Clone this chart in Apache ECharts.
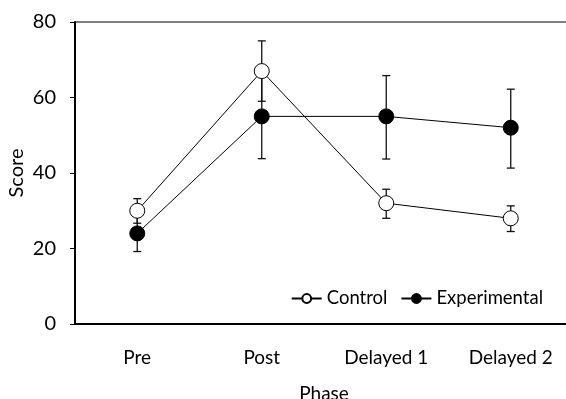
<!DOCTYPE html>
<html>
<head>
<meta charset="utf-8">
<script src="https://cdn.jsdelivr.net/npm/echarts@6/dist/echarts.min.js"></script>
<style>
  html, body { margin: 0; padding: 0; background: #fff; }
  #chart { width: 566px; height: 399px; }
</style>
</head>
<body>
<div id="chart"></div>
<script>
// Phases of the study
const phases = ['Pre', 'Post', 'Delayed 1', 'Delayed 2'];

// Mean scores per group
const controlMeans = [30, 67, 32, 28];
const experimentalMeans = [24, 55, 55, 52];

// Error bar extents (low / high) per group
const controlLow = [26.7, 59, 28, 24.5];
const controlHigh = [33.2, 75, 35.7, 31.3];
const experimentalLow = [19.2, 43.8, 43.7, 41.3];
const experimentalHigh = [28.8, 66.2, 65.8, 62.2];

// Y axis ticks
const scoreTicks = [0, 20, 40, 60, 80];

const FONT = 'Lato';

function errorData(low, high) {
  return low.map((l, i) => [i, l, high[i]]);
}

function renderError(params, api) {
  const x = api.value(0);
  const lo = api.coord([x, api.value(1)]);
  const hi = api.coord([x, api.value(2)]);
  const half = 4;
  const style = { stroke: '#111', lineWidth: 1.3 };
  return {
    type: 'group',
    children: [
      { type: 'line', shape: { x1: hi[0], y1: hi[1], x2: lo[0], y2: lo[1] }, style },
      { type: 'line', shape: { x1: hi[0] - half, y1: hi[1], x2: hi[0] + half, y2: hi[1] }, style },
      { type: 'line', shape: { x1: lo[0] - half, y1: lo[1], x2: lo[0] + half, y2: lo[1] }, style }
    ]
  };
}

const chart = echarts.init(document.getElementById('chart'), null, { renderer: 'canvas' });

chart.setOption({
  animation: false,
  backgroundColor: '#fff',
  textStyle: { fontFamily: FONT, color: '#000' },
  grid: {
    left: 75, top: 22, width: 498, height: 302,
    outerBoundsMode: 'none',
    containLabel: false,
    show: true, borderColor: '#000', borderWidth: 1, backgroundColor: 'transparent'
  },
  legend: {
    right: 18, top: 284,
    itemWidth: 30, itemHeight: 11, itemGap: 13,
    textStyle: { fontFamily: FONT, fontSize: 18.5, color: '#000' },
    data: ['Control', 'Experimental']
  },
  xAxis: {
    type: 'category',
    data: phases,
    boundaryGap: true,
    name: 'Phase',
    nameLocation: 'middle',
    nameGap: 60,
    nameMoveOverlap: false,
    nameTextStyle: { fontFamily: FONT, fontSize: 19, color: '#000' },
    axisLine: { lineStyle: { color: '#000', width: 2 } },
    axisTick: { inside: true, alignWithLabel: true, length: 4, lineStyle: { color: '#000', width: 1 } },
    axisLabel: { fontFamily: FONT, fontSize: 19, color: '#000', margin: 24 },
    splitLine: { show: false }
  },
  yAxis: {
    type: 'value',
    min: scoreTicks[0],
    max: scoreTicks[scoreTicks.length - 1],
    interval: scoreTicks[1] - scoreTicks[0],
    name: 'Score',
    nameLocation: 'middle',
    nameGap: 48,
    nameMoveOverlap: false,
    nameTextStyle: { fontFamily: FONT, fontSize: 20, color: '#000' },
    axisLine: { show: true, lineStyle: { color: '#000', width: 2 } },
    axisTick: { show: true, length: 5, lineStyle: { color: '#000', width: 1 } },
    axisLabel: { fontFamily: FONT, fontSize: 20, color: '#000', margin: 19 },
    splitLine: { show: false }
  },
  series: [
    {
      name: 'Control',
      type: 'line',
      data: controlMeans,
      symbol: 'circle',
      symbolSize: 15,
      z: 3,
      lineStyle: { color: '#000', width: 1 },
      itemStyle: { color: '#fff', borderColor: '#000', borderWidth: 1 }
    },
    {
      name: 'Experimental',
      type: 'line',
      data: experimentalMeans,
      symbol: 'circle',
      symbolSize: 15,
      z: 3,
      lineStyle: { color: '#000', width: 1 },
      itemStyle: { color: '#000', borderColor: '#000', borderWidth: 1 }
    },
    {
      type: 'custom',
      name: 'controlError',
      renderItem: renderError,
      data: errorData(controlLow, controlHigh),
      encode: { x: 0, y: [1, 2] },
      z: 2
    },
    {
      type: 'custom',
      name: 'experimentalError',
      renderItem: renderError,
      data: errorData(experimentalLow, experimentalHigh),
      encode: { x: 0, y: [1, 2] },
      z: 2
    }
  ]
});
</script>
</body>
</html>
